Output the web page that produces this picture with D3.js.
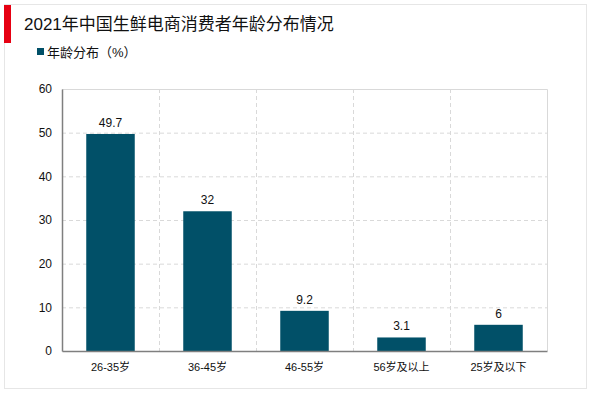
<!DOCTYPE html>
<html>
<head>
<meta charset="utf-8">
<script src="https://cdn.jsdelivr.net/npm/d3@7"></script>
<style>
  body { margin: 0; background: #fff; }
  text { font-family: "Liberation Sans", Arial, "Noto Sans CJK SC", sans-serif; }
</style>
</head>
<body>
<div id="chart"></div>
<script>
const categories = ["26-35岁", "36-45岁", "46-55岁", "56岁及以上", "25岁及以下"];
const values = [49.7, 32, 9.2, 3.1, 6];
const yTicks = [0, 10, 20, 30, 40, 50, 60];
const title = "2021年中国生鲜电商消费者年龄分布情况";
const seriesName = "年龄分布（%）";

const width = 600, height = 393;
const margin = { top: 89, right: 53, bottom: 42, left: 62 };
const barColor = "#015068";

const svg = d3.select("#chart").append("svg")
    .attr("width", width)
    .attr("height", height);

// outer frame
svg.append("rect")
    .attr("x", 4.5).attr("y", 4.5)
    .attr("width", 582).attr("height", 384)
    .attr("fill", "none")
    .attr("stroke", "#e6e6e6");

// red marker + title
svg.append("rect")
    .attr("x", 4).attr("y", 5)
    .attr("width", 7).attr("height", 38)
    .attr("fill", "#e60012");
svg.append("text")
    .attr("x", 24).attr("y", 30)
    .attr("font-size", 17)
    .attr("fill", "#111")
    .text(title);

// legend
svg.append("rect")
    .attr("x", 37).attr("y", 48)
    .attr("width", 7).attr("height", 7)
    .attr("fill", barColor);
svg.append("text")
    .attr("x", 47).attr("y", 57)
    .attr("font-size", 13)
    .attr("fill", "#111")
    .text(seriesName);

const x = d3.scaleBand()
    .domain(categories)
    .range([margin.left, width - margin.right])
    .paddingInner(0.5)
    .paddingOuter(0.25);

const y = d3.scaleLinear()
    .domain([0, 60])
    .range([height - margin.bottom, margin.top]);

const g = svg.append("g");

// horizontal grid
g.selectAll(".hgrid")
    .data(yTicks.filter(d => d > 0 && d < 60))
    .enter().append("line")
    .attr("x1", margin.left).attr("x2", width - margin.right)
    .attr("y1", d => y(d) + 0.5).attr("y2", d => y(d) + 0.5)
    .attr("stroke", "#d9d9d9")
    .attr("stroke-dasharray", "4,3");

// vertical grid between categories
const step = x.step();
g.selectAll(".vgrid")
    .data(categories.slice(1))
    .enter().append("line")
    .attr("x1", d => Math.round(x(d) - step * 0.25) + 0.5)
    .attr("x2", d => Math.round(x(d) - step * 0.25) + 0.5)
    .attr("y1", margin.top).attr("y2", height - margin.bottom)
    .attr("stroke", "#d9d9d9")
    .attr("stroke-dasharray", "4,3");

// top and right frame
g.append("path")
    .attr("d", `M${margin.left},${margin.top + 0.5}H${width - margin.right + 0.5}V${height - margin.bottom}`)
    .attr("fill", "none")
    .attr("stroke", "#d9d9d9");

// bars
g.selectAll(".bar")
    .data(values)
    .enter().append("rect")
    .attr("class", "bar")
    .attr("x", (d, i) => x(categories[i]))
    .attr("y", d => y(d))
    .attr("width", x.bandwidth())
    .attr("height", d => y(0) - y(d))
    .attr("fill", barColor);

// value labels
g.selectAll(".val")
    .data(values)
    .enter().append("text")
    .attr("x", (d, i) => x(categories[i]) + x.bandwidth() / 2)
    .attr("y", d => y(d) - 7)
    .attr("text-anchor", "middle")
    .attr("font-size", 12)
    .attr("fill", "#111")
    .text(d => d);

// y axis
const yAxis = svg.append("g")
    .attr("transform", `translate(${margin.left},0)`)
    .call(d3.axisLeft(y).tickValues(yTicks).tickSize(0).tickPadding(10));
yAxis.select(".domain").attr("stroke", "#7f7f7f").attr("stroke-width", 1.5);
yAxis.selectAll("text").attr("font-size", 12).attr("fill", "#111");

// x axis
const xAxis = svg.append("g")
    .attr("transform", `translate(0,${height - margin.bottom})`)
    .call(d3.axisBottom(x).tickSize(0).tickPadding(12));
xAxis.select(".domain").attr("stroke", "#7f7f7f").attr("stroke-width", 1.5);
xAxis.selectAll("text").attr("font-size", 11).attr("fill", "#111");
</script>
</body>
</html>
